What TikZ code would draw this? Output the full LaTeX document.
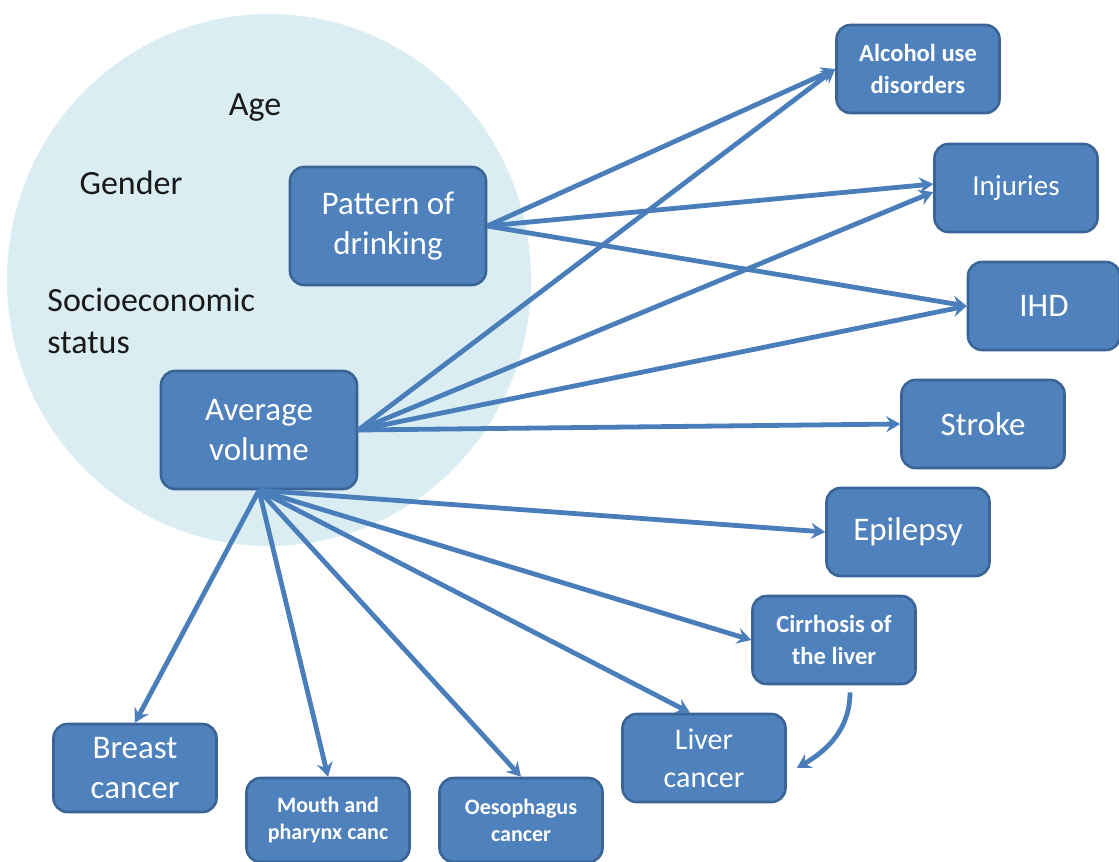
\documentclass[tikz,border=0pt]{standalone}
\usepackage{fontspec}
\setmainfont{Carlito}
\usepackage{tikz}
\usetikzlibrary{arrows.meta}
\usetikzlibrary{shapes}
\usetikzlibrary{positioning}
\definecolor{boxblue}{HTML}{4F81BD}
\definecolor{boxline}{HTML}{3A6495}
\definecolor{arrowblue}{HTML}{4A7EBB}
\definecolor{haze}{HTML}{DAEDF3}
\tikzstyle{outcome}=[rectangle,rounded corners=7pt,draw=boxline,line width=1.3pt,fill=boxblue,text=white,align=center,minimum width=81.5pt,minimum height=44pt,inner sep=1pt]
\tikzstyle{factor}=[outcome,minimum width=98pt,minimum height=59pt]
\tikzstyle{bigtxt}=[font=\fontsize{16.5}{20}\selectfont]
\tikzstyle{midtxt}=[font=\fontsize{14.5}{19}\selectfont]
\tikzstyle{smalltxt}=[font=\bfseries\fontsize{12.3}{16}\selectfont]
\tikzstyle{tinytxt}=[font=\bfseries\fontsize{11}{13.5}\selectfont]
\tikzstyle{covar}=[text=black!90,font=\fontsize{17}{21}\selectfont,align=left,inner sep=0pt]
\tikzstyle{arrow}=[->,>={Stealth[length=7pt,width=8pt,inset=2.5pt]},draw=arrowblue,line width=2.4pt]

\begin{document}
\begin{tikzpicture}[x=0.5pt,y=-0.5pt]
        \useasboundingbox (0,0) rectangle (1119,862);
        % the cloud of background factors
        \fill[haze] (269,280) ellipse [x radius=131pt,y radius=133pt];
        \node[covar] at (255,108) (age) {Age};
        \node[covar] at (131,183) (gen) {Gender};
        \node[covar,anchor=west] at (47,321) (ses) {Socioeconomic\\status};
        % exposures
        \node[factor,bigtxt] at (388,226) (pat) {Pattern of\\drinking};
        \node[factor,bigtxt] at (259,430) (avg) {Average\\volume};
        % outcomes
        \node[outcome,smalltxt] at (918,69) (alc) {Alcohol use\\disorders};
        \node[outcome,midtxt] at (1016,188) (inj) {Injuries};
        \node[outcome,bigtxt,minimum width=76pt] at (1044,306) (ihd) {IHD};
        \node[outcome,bigtxt] at (983,424) (stk) {Stroke};
        \node[outcome,bigtxt] at (908,532) (epi) {Epilepsy};
        \node[outcome,smalltxt] at (834,640) (cir) {Cirrhosis of\\the liver};
        \node[outcome,midtxt,font=\fontsize{15}{19}\selectfont] at (704,758) (liv) {Liver\\cancer};
        \node[outcome,bigtxt] at (135,768) (brc) {Breast\\cancer};
        \node[outcome,tinytxt,minimum height=42pt] at (328,820) (mou) {Mouth and\\pharynx canc};
        \node[outcome,tinytxt,minimum height=42pt] at (521,820) (oes) {Oesophagus\\cancer};
        % pattern of drinking
        \draw[arrow] (pat.east) -- (alc.west);
        \draw[arrow] (pat.east) -- ([yshift=2pt]inj.west);
        \draw[arrow] (pat.east) -- (ihd.west);
        % average volume
        \draw[arrow] (avg.east) -- (alc.west);
        \draw[arrow] (avg.east) -- ([yshift=-2pt]inj.west);
        \draw[arrow] (avg.east) -- (ihd.west);
        \draw[arrow] (avg.east) -- (stk.west);
        \draw[arrow] (avg.south) -- (epi.west);
        \draw[arrow] (avg.south) -- (cir.west);
        \draw[arrow] (avg.south) -- ([xshift=-7pt]liv.north);
        \draw[arrow] (avg.south) -- (oes.north);
        \draw[arrow] (avg.south) -- (mou.north);
        \draw[arrow] (avg.south) -- (brc.north);
        \draw[arrow] ([xshift=8pt,yshift=-3.5pt]cir.south) to[out=-90,in=30] ([xshift=5pt,yshift=-5pt]liv.east);
\end{tikzpicture}
\end{document}
